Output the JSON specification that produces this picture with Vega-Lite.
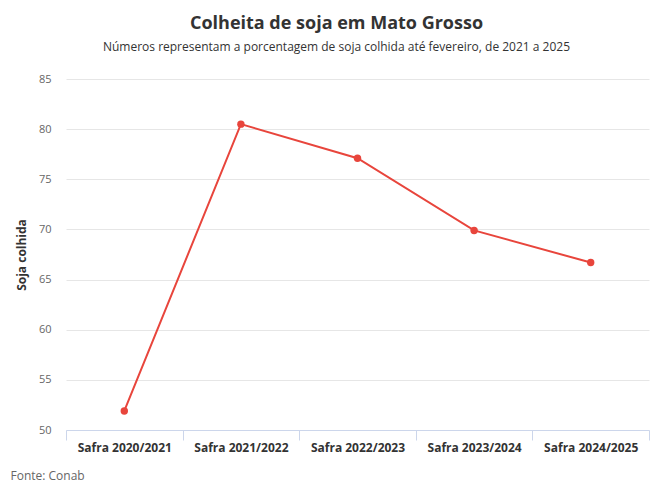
{
  "$schema": "https://vega.github.io/schema/vega-lite/v6.json",
  "width": 583,
  "height": 351,
  "autosize": "none",
  "padding": {"left": 66, "top": 79, "right": 13, "bottom": 58},
  "background": "white",
  "config": {"font": "Open Sans", "view": {"stroke": null}},
  "title": {
    "text": "Colheita de soja em Mato Grosso",
    "subtitle": "Números representam a porcentagem de soja colhida até fevereiro, de 2021 a 2025",
    "fontSize": 18,
    "fontWeight": "bold",
    "color": "#333333",
    "subtitleFontSize": 12,
    "subtitleColor": "#333333",
    "subtitlePadding": 9,
    "anchor": "middle",
    "dx": -21,
    "offset": 20
  },
  "data": {
    "values": [
      {"safra": "Safra 2020/2021", "valor": 51.9},
      {"safra": "Safra 2021/2022", "valor": 80.5},
      {"safra": "Safra 2022/2023", "valor": 77.1},
      {"safra": "Safra 2023/2024", "valor": 69.9},
      {"safra": "Safra 2024/2025", "valor": 66.7}
    ]
  },
  "mark": {"type": "line", "color": "#e8453c", "strokeWidth": 2, "point": {"filled": true, "size": 55, "color": "#e8453c"}},
  "encoding": {
    "x": {
      "field": "safra",
      "type": "nominal",
      "sort": null,
      "scale": {"paddingInner": 0, "paddingOuter": 0},
      "axis": {
        "labelAngle": 0,
        "labelFontWeight": "bold",
        "labelFontSize": 12,
        "labelColor": "#333333",
        "labelPadding": 2,
        "domainColor": "#ccd6eb",
        "tickColor": "#ccd6eb",
        "tickSize": 10,
        "tickBand": "extent",
        "title": "Fonte: Conab",
        "titleFontWeight": "normal",
        "titleFontSize": 12,
        "titleColor": "#666666",
        "titleAnchor": "start",
        "titleAlign": "left",
        "titleBaseline": "middle",
        "titleX": -56,
        "titleY": 45
      }
    },
    "y": {
      "field": "valor",
      "type": "quantitative",
      "scale": {"domain": [50, 85], "zero": false, "nice": false},
      "axis": {
        "values": [50, 55, 60, 65, 70, 75, 80, 85],
        "grid": true,
        "gridColor": "#e6e6e6",
        "domain": false,
        "ticks": false,
        "labelColor": "#666666",
        "labelFontSize": 11,
        "labelPadding": 15,
        "title": "Soja colhida",
        "titleFontSize": 12,
        "titleFontWeight": "bold",
        "titleColor": "#333333",
        "titlePadding": 10
      }
    }
  }
}
